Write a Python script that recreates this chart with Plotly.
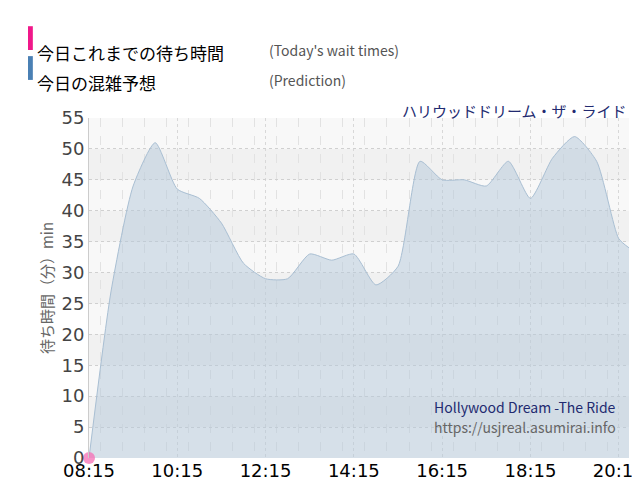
import pandas as pd
import plotly.graph_objects as go

# Data
times = ["08:15", "08:45", "09:15", "09:45", "10:15", "10:45", "11:15", "11:45",
         "12:15", "12:45", "13:15", "13:45", "14:15", "14:45", "15:15", "15:45",
         "16:15", "16:45", "17:15", "17:45", "18:15", "18:45", "19:15", "19:45",
         "20:15", "20:29"]
prediction = [0, 27, 44, 51, 43.5, 42, 38, 31.5, 29, 29, 33, 32, 33, 28, 31, 48,
              45, 45, 44, 48, 42, 48.5, 52, 48, 35.5, 34]
actual_times = ["08:15"]
actual = [0]
tick_labels = ["08:15", "10:15", "12:15", "14:15", "16:15", "18:15", "20:15"]

to_dt = lambda ts: pd.to_datetime(["2024-01-01 " + t for t in ts])
x = to_dt(times)
font = "Noto Sans CJK JP"

fig = go.Figure()
fig.add_trace(go.Scatter(x=x, y=prediction, mode="lines",
                         line=dict(color="#a9bfd3", width=1, shape="spline", smoothing=0.6),
                         fill="tozeroy", fillcolor="rgba(180,200,218,0.5)", hoverinfo="x+y"))
fig.add_trace(go.Scatter(x=to_dt(actual_times), y=actual, mode="markers",
                         marker=dict(color="rgba(245,110,180,0.75)", size=12), cliponaxis=False))

# alternating bands
for lo in [5, 15, 25, 35, 45]:
    fig.add_hrect(y0=lo, y1=lo + 5, fillcolor="#ececec", opacity=0.6, line_width=0, layer="below")

fig.update_layout(
    width=640, height=500, margin=dict(l=81, r=19, t=110, b=50, autoexpand=False),
    plot_bgcolor="#f8f8f8", paper_bgcolor="white", showlegend=False,
    font=dict(family=font),
    xaxis=dict(range=[to_dt(["08:15"])[0], to_dt(["20:29"])[0]], automargin=False,
               tickvals=to_dt(tick_labels), ticktext=tick_labels,
               tickfont=dict(size=18, color="black", family="DejaVu Sans"),
               showgrid=True, gridcolor="#d8d8d8", griddash="dot", zeroline=False,
               minor=dict(dtick=30 * 60 * 1000, showgrid=True, gridcolor="#e2e2e2", griddash="dash"),
               ticks="", showline=False),
    yaxis=dict(range=[0, 55], dtick=5, automargin=False,
               tickfont=dict(size=18, color="#444", family="DejaVu Sans"),
               gridcolor="#d0d0d0", griddash="dot", zeroline=False, showline=True, linecolor="#cccccc",
               title=dict(text="待ち時間（分）min", font=dict(size=15, color="#666"), standoff=4)),
)

# legend + labels (paper coords: plot spans y pixel 110..450)
fig.add_shape(type="rect", xref="paper", yref="paper", x0=-0.113, x1=-0.104, y0=1.20, y1=1.27,
              fillcolor="#f0188a", line_width=0)
fig.add_shape(type="rect", xref="paper", yref="paper", x0=-0.113, x1=-0.104, y0=1.112, y1=1.182,
              fillcolor="#4a80b4", line_width=0)
fig.add_annotation(text="今日これまでの待ち時間", xref="paper", yref="paper", x=-0.10, y=1.235, xanchor="left",
                   showarrow=False, font=dict(size=17, color="black"))
fig.add_annotation(text="今日の混雑予想", xref="paper", yref="paper", x=-0.10, y=1.147, xanchor="left",
                   showarrow=False, font=dict(size=17, color="black"))
fig.add_annotation(text="(Today's wait times)", xref="paper", yref="paper", x=0.33, y=1.235, xanchor="left",
                   showarrow=False, font=dict(size=14, color="#555"))
fig.add_annotation(text="(Prediction)", xref="paper", yref="paper", x=0.33, y=1.147, xanchor="left",
                   showarrow=False, font=dict(size=14, color="#555"))
fig.add_annotation(text="ハリウッドドリーム・ザ・ライド", xref="paper", yref="paper", x=1.0, y=1.06, xanchor="right",
                   showarrow=False, font=dict(size=15, color="#222a70"))
fig.add_annotation(text="Hollywood Dream -The Ride", xref="paper", yref="paper", x=0.98, y=0.115, xanchor="right",
                   showarrow=False, font=dict(size=14, color="#222a70"))
fig.add_annotation(text="https://usjreal.asumirai.info", xref="paper", yref="paper", x=0.98, y=0.055, xanchor="right",
                   showarrow=False, font=dict(size=14, color="#666"))

fig.write_html("out.html")
